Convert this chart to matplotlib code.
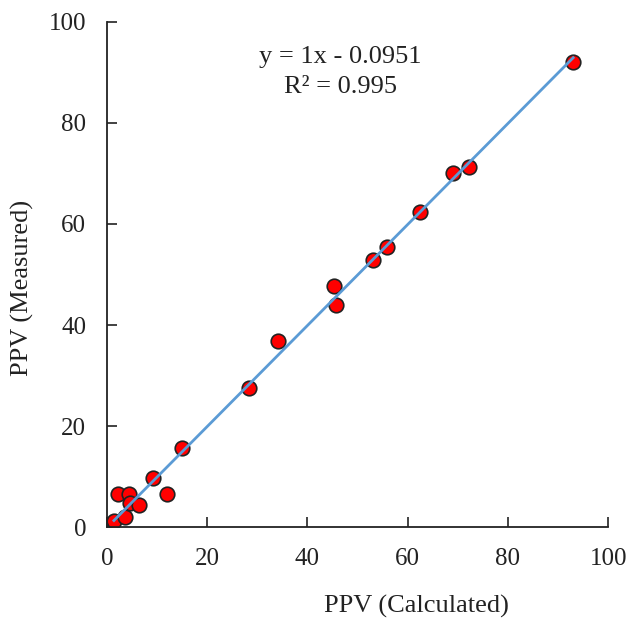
import matplotlib
matplotlib.use("Agg")
import matplotlib.pyplot as plt
import numpy as np

calculated = [93.0, 72.3, 69.1, 62.5, 55.9, 53.1, 45.3, 45.7, 34.1, 28.3, 15.0, 9.2, 12.0, 2.2, 4.4, 4.6, 6.4, 1.4, 3.6]
measured   = [92.1, 71.3, 70.1, 62.4, 55.4, 52.9, 47.7, 44.0, 36.8, 27.5, 15.6, 9.7, 6.5, 6.5, 6.5, 4.7, 4.4, 1.2, 2.0]
slope = 1.0
intercept = -0.0951
r2 = 0.995
ticks = [0, 20, 40, 60, 80, 100]

plt.rcParams['font.family'] = ['Liberation Serif', 'DejaVu Serif']

fig = plt.figure(figsize=(6.29, 6.26), dpi=100)
ax = fig.add_axes([0.170, 0.158, 0.797, 0.807])

x = np.array(calculated)
xl = np.array([x.min(), x.max()])
ax.plot(xl, slope * xl + intercept, color='#5B9BD5', lw=2.0, zorder=3)
ax.scatter(calculated, measured, s=110, facecolor='#FF0000', edgecolor='#222222', linewidth=1.2, zorder=2)

ax.set_xlim(0, 100)
ax.set_ylim(0, 100)
ax.set_xticks(ticks)
ax.set_yticks(ticks)
ax.tick_params(direction='in', length=7, width=1.2, labelsize=18, colors='#222222', pad=15)
for s in ['top', 'right']:
    ax.spines[s].set_visible(False)
for s in ['left', 'bottom']:
    ax.spines[s].set_linewidth(1.3)
    ax.spines[s].set_color('#222222')

fig.text(416/629, 1 - 606/626, 'PPV (Calculated)', ha='center', va='center', fontsize=19, color='#222222')
fig.text(22/629, 1 - 288/626, 'PPV (Measured)', ha='center', va='center', rotation=90, fontsize=19, color='#222222')

fig.text(340/629, 1 - 57/626, f'y = {slope:g}x - {abs(intercept)}', ha='center', va='center', fontsize=19, color='#222222')
fig.text(340/629, 1 - 87/626, f'R² = {r2}', ha='center', va='center', fontsize=19, color='#222222')

fig.savefig('out.png', dpi=100)
